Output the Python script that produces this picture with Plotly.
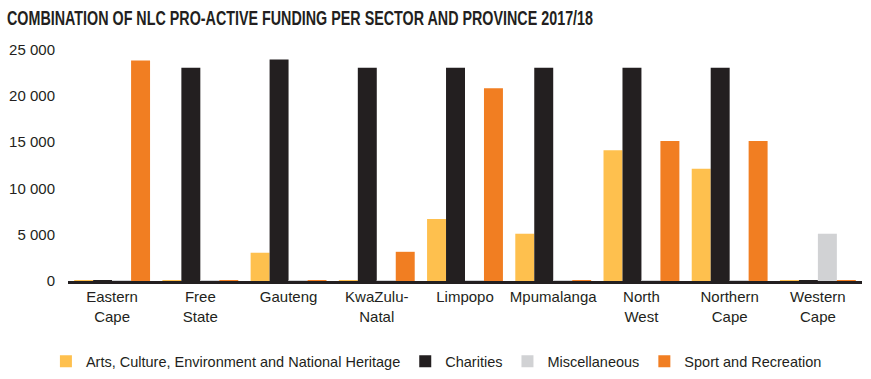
import plotly.graph_objects as go

provinces = ["Eastern<br>Cape", "Free<br>State", "Gauteng", "KwaZulu-<br>Natal", "Limpopo",
             "Mpumalanga", "North<br>West", "Northern<br>Cape", "Western<br>Cape"]
arts = [80, 80, 3050, 80, 6700, 5100, 14100, 12100, 80]
charities = [80, 23000, 23900, 23000, 23000, 23000, 23000, 23000, 80]
misc = [80, 80, 80, 80, 80, 80, 80, 80, 5100]
sport = [23800, 80, 80, 3150, 20800, 80, 15100, 15100, 80]

series_names = ["Arts, Culture, Environment and National Heritage", "Charities",
                "Miscellaneous", "Sport and Recreation"]
series_colors = ["#FEC04E", "#231F20", "#D1D2D4", "#F17E22"]
series_values = [arts, charities, misc, sport]

y_ticks = [0, 5000, 10000, 15000, 20000, 25000]
y_ticktext = ["0", "5 000", "10 000", "15 000", "20 000", "25 000"]

fig = go.Figure()
for name, color, vals in zip(series_names, series_colors, series_values):
    fig.add_trace(go.Bar(x=provinces, y=vals, name=name, marker_color=color,
                         marker_line_width=0))

W, H = 871, 379
left, right = 68, 862
zero_y = 281.5
ymax = 26000
top = zero_y - ymax / 107.5

fig.update_layout(
    width=W, height=H,
    margin=dict(l=left, r=W - right, t=top, b=H - zero_y, pad=0, autoexpand=False),
    paper_bgcolor="white", plot_bgcolor="white",
    barmode="group", bargap=0.14, bargroupgap=0,
    font=dict(family="Liberation Sans, Arial, sans-serif", size=15, color="#231F20"),
    title=dict(text="<b>COMBINATION OF NLC PRO-ACTIVE FUNDING PER SECTOR AND PROVINCE 2017/18</b>",
               x=7 / W, xanchor="left", y=1 - 18 / H, yanchor="middle",
               font=dict(family="Liberation Sans, Arial, sans-serif", size=20.5,
                         color="#231F20")),
    xaxis=dict(showgrid=False, showline=True, linecolor="#231F20", linewidth=3,
               ticks="", tickfont=dict(size=15, color="#231F20"), automargin=False),
    yaxis=dict(range=[0, ymax], showgrid=False, zeroline=False, showline=False,
               tickvals=y_ticks, ticktext=y_ticktext, ticks="",
               tickfont=dict(size=15, color="#231F20"), ticklabelstandoff=12,
               automargin=False),
    legend=dict(orientation="h", x=0.464, xanchor="center", y=-0.333, yanchor="middle",
                font=dict(size=14.5, color="#231F20"), traceorder="normal",
                itemwidth=30),
)

post = """
document.body.style.margin = '0';
var t = document.querySelector('.gtitle');
if (t) { t.setAttribute('textLength', '586'); t.setAttribute('lengthAdjust', 'spacingAndGlyphs'); }
"""
fig.write_html("out.html", post_script=post, config={"displayModeBar": False})
